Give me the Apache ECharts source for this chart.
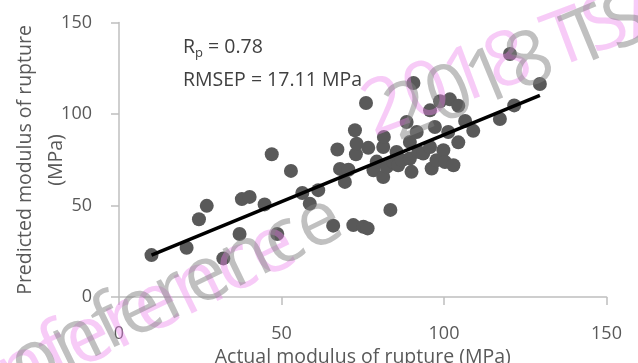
<!DOCTYPE html>
<html>
<head>
<meta charset="utf-8">
<script src="https://cdn.jsdelivr.net/npm/echarts@6/dist/echarts.min.js"></script>
<style>html,body{margin:0;padding:0;background:#fff}#c{width:638px;height:363px}</style>
</head>
<body>
<div id="c"></div>
<script>
// Actual MOR (x) and predicted MOR (y), MPa
var actual = [10,20.8,24.6,27,32.1,37.1,37.8,40.2,44.8,47.0,48.7,52.9,56.4,58.7,61.3,65.9,67.2,68.0,69.5,70.6,72.1,72.6,72.9,73.1,75.2,76.5,76.0,76.7,78.3,79.3,81.3,81.3,81.5,82.4,83.5,84.4,85.4,85.9,87,88.5,89.5,89.5,90,90.6,91.6,92.1,93.6,95.7,95.7,96.2,97.2,97.7,98.8,99.8,100.3,101.3,101.8,102.9,104.4,104.4,106.5,109,117.2,120.3,121.6,129.5];
var predicted = [22.9,26.9,42.5,49.8,21.1,34.4,53.5,54.7,50.6,78.0,34.4,68.9,56.8,51,58.4,39.0,80.6,70,62.9,69.5,39.3,91.1,78,83.8,38.4,37.5,106,81.5,69.3,74,65.6,82,87.5,71.1,47.6,73.8,79.3,72,74.7,95.6,84.7,75.7,68.4,116.9,90.2,79.3,78.4,102,82,70.2,92.9,74.7,107,80.2,73.8,90.2,108,72,104.5,84.5,96.2,90.8,97.3,132.8,104.7,116.4];
// Fitted line end points
var fitX = [10, 129.5];
var fitY = [22.9, 110.2];
var xTicks = [0, 50, 100, 150];
var yTicks = [0, 50, 100, 150];
var annoRp = '0.78';
var annoRmsep = '17.11';

var pts = actual.map(function(v,i){return [v, predicted[i]];});
var fit = fitX.map(function(v,i){return [v, fitY[i]];});
var font = "'Open Sans', 'Noto Sans', sans-serif";
var axisCol = '#bfbfbf', lblCol = '#595959';
var deg = Math.PI/180;
var pink = 'rgba(235,130,235,0.42)', grey = 'rgba(130,130,130,0.5)';

var chart = echarts.init(document.getElementById('c'), null, {renderer:'canvas'});
chart.setOption({
  animation:false,
  backgroundColor:'#fff',
  grid:{left:119, right:31.5, top:22.5, bottom:66, containLabel:false, outerBoundsMode:'none'},
  xAxis:{type:'value', min:xTicks[0], max:xTicks[xTicks.length-1], interval:50,
    name:'Actual modulus of rupture (MPa)', nameLocation:'middle', nameGap:44,
    nameTextStyle:{color:lblCol, fontSize:19.5, fontFamily:font},
    axisLine:{show:true, lineStyle:{color:axisCol, width:1.5}},
    axisTick:{show:true, length:8, inside:false, lineStyle:{color:axisCol, width:1.5}},
    axisLabel:{color:lblCol, fontSize:18, fontFamily:font, margin:28},
    splitLine:{show:false}},
  yAxis:{type:'value', min:yTicks[0], max:yTicks[yTicks.length-1], interval:50,
    axisLine:{show:true, lineStyle:{color:axisCol, width:1.5}},
    axisTick:{show:true, length:8, inside:false, lineStyle:{color:axisCol, width:1.5}},
    axisLabel:{color:lblCol, fontSize:18, fontFamily:font, margin:27},
    splitLine:{show:false}},
  series:[
    {type:'scatter', data:pts, symbolSize:14, itemStyle:{color:'#595959', opacity:1}, z:2},
    {type:'line', data:fit, symbol:'none', lineStyle:{color:'#000', width:3.5}, z:3}
  ],
  graphic:[
    {type:'text', x:25, y:160, rotation:Math.PI/2, z:10,
      style:{text:'Predicted modulus of rupture', fill:lblCol, font:'19.5px '+font, textAlign:'center', textVerticalAlign:'middle'}},
    {type:'text', x:56, y:160, rotation:Math.PI/2, z:10,
      style:{text:'(MPa)', fill:lblCol, font:'19.5px '+font, textAlign:'center', textVerticalAlign:'middle'}},
    {type:'text', x:183, y:47, z:10,
      style:{text:'{a|R}{s|p}{a| = '+annoRp+'}', textVerticalAlign:'middle',
        rich:{a:{fill:'#404040', fontSize:19.5, fontFamily:font}, s:{fill:'#404040', fontSize:13, fontFamily:font, padding:[12,0,0,0]}}}},
    {type:'text', x:183, y:80, z:10,
      style:{text:'RMSEP = '+annoRmsep+' MPa', fill:'#404040', font:'19.5px '+font, textVerticalAlign:'middle'}},
    // watermark
    {type:'text', x:292, y:240, rotation:26*deg, z:20, silent:true,
      style:{text:'Conference', fill:pink, font:'78px '+font, textAlign:'right', textVerticalAlign:'middle'}},
    {type:'text', x:338, y:214, rotation:26*deg, z:21, silent:true,
      style:{text:'Conference', fill:grey, font:'76px '+font, textAlign:'right', textVerticalAlign:'middle'}},
    {type:'text', x:366, y:116, rotation:20.5*deg, z:20, silent:true,
      style:{text:'2018 TSAE', fill:pink, font:'76px '+font, textAlign:'left', textVerticalAlign:'middle'}},
    {type:'text', x:390, y:121, rotation:22.5*deg, z:21, silent:true,
      style:{text:'2018 TSAE', fill:grey, font:'76px '+font, textAlign:'left', textVerticalAlign:'middle'}}
  ]
});
</script>
</body>
</html>
